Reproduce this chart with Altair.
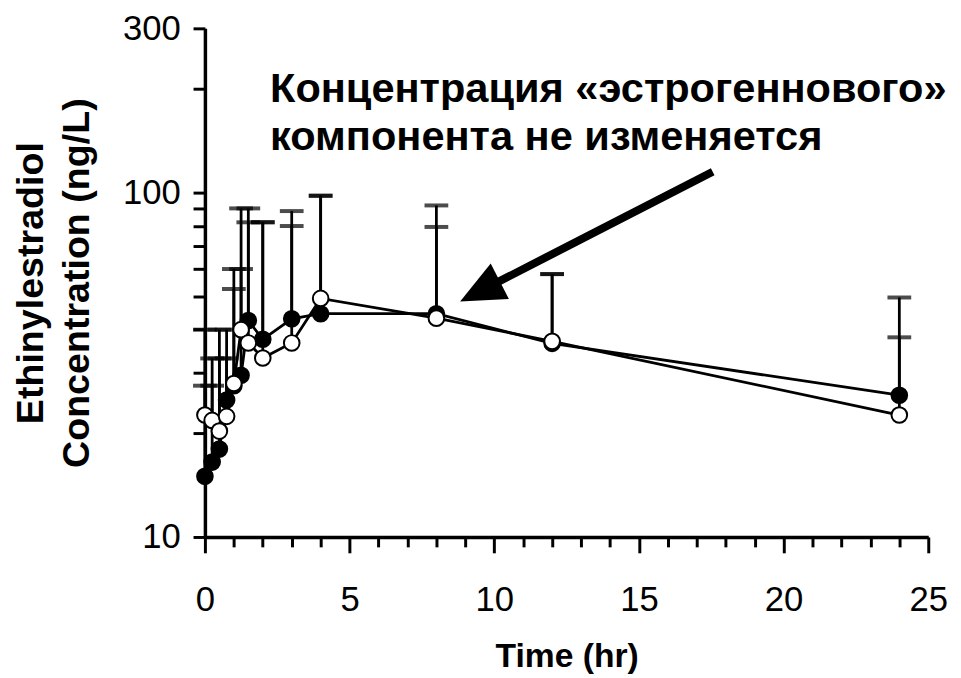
import altair as alt
import pandas as pd

# ---- data ----
times = [0, 0.25, 0.5, 0.75, 1, 1.25, 1.5, 2, 3, 4, 8, 12, 24]
filled_mean = [15.0, 16.5, 18.0, 25.0, 27.5, 29.5, 42.5, 37.5, 43.0, 44.5, 44.5, 36.5, 25.8]
open_mean = [22.6, 21.8, 20.3, 22.4, 27.9, 40.0, 36.6, 33.1, 36.6, 49.3, 43.2, 37.0, 22.6]
filled_upper = [27.5, 27.5, 33.0, 40.0, 52.5, 60.0, 90.0, 82.0, 80.0, 98.0, 79.5, 58.0, 38.0]
open_upper = [40.0, 33.0, 40.0, 33.0, 60.0, 90.0, 82.0, 82.0, 88.4, 98.0, 91.8, 58.0, 49.6]

annot_lines = ["Концентрация «эстрогеннового»", "компонента не изменяется"]
annot_x = [2.25, 2.25]
annot_y = [200.0, 145.0]

arrow_tail_x = [17.55]
arrow_tail_y = [115.0]
arrow_shaft_end_x = [9.58]
arrow_shaft_end_y = [52.1]
arrow_tip_x = [8.82]
arrow_tip_y = [48.3]

x_ticks = list(range(0, 26))
y_ticks = [10, 20, 30, 40, 50, 60, 70, 80, 90, 100, 200, 300]

FONT = "Liberation Sans"
X_TITLE = "Time (hr)"
Y_TITLE = ["Ethinylestradiol", "Concentration (ng/L)"]

rows = []
for t, m, u in zip(times, filled_mean, filled_upper):
    rows.append({"time": t, "mean": m, "upper": u, "group": "filled"})
for t, m, u in zip(times, open_mean, open_upper):
    rows.append({"time": t, "mean": m, "upper": u, "group": "open"})
df = pd.DataFrame(rows)

xscale = alt.Scale(domain=[0, 25], nice=False)
yscale = alt.Scale(type="log", domain=[10, 300], nice=False)

x_axis = alt.Axis(
    values=x_ticks,
    labelExpr="datum.value % 5 === 0 ? datum.label : ''",
    tickSize={"condition": {"test": "datum.value % 5 === 0", "value": 16}, "value": 10},
    labelPadding=30, titlePadding=23, labelFlush=False,
    labelFontSize=35, titleFontSize=34,
)
y_axis = alt.Axis(
    values=y_ticks,
    format="d",
    labelExpr="(datum.value == 10 || datum.value == 100 || datum.value == 300) ? datum.label : ''",
    tickSize=12,
    labelPadding=13, titlePadding=26, titleLineHeight=47,
    labelFontSize=35, titleFontSize=38,
)


def X(field):
    return alt.X(field, scale=xscale, axis=x_axis, title=X_TITLE)


def Y(field):
    return alt.Y(field, scale=yscale, axis=y_axis, title=Y_TITLE)


base = alt.Chart(df)

lines = base.mark_line(color="#000", strokeWidth=2.8).encode(
    x=X("time:Q"), y=Y("mean:Q"), detail="group:N",
)

err = base.mark_rule(color="#000", strokeWidth=2.8).encode(
    x=X("time:Q"), y=Y("mean:Q"), y2="upper:Q",
)

caps = base.mark_tick(color="#000", orient="horizontal", size=24, thickness=4).encode(
    x=X("time:Q"), y=Y("upper:Q"),
)

points = base.mark_point(filled=True, size=250, stroke="#000", strokeWidth=2, opacity=1, shape="circle").encode(
    x=X("time:Q"), y=Y("mean:Q"),
    fill=alt.Fill("group:N", scale=alt.Scale(domain=["filled", "open"], range=["#000", "#fff"]), legend=None),
    order=alt.Order("group:N", sort="ascending"),
)

text_df = pd.DataFrame({"label": annot_lines, "x": annot_x, "y": annot_y})
annot = alt.Chart(text_df).mark_text(
    align="left", baseline="middle", font=FONT, fontSize=42, fontWeight="bold", color="#000"
).encode(
    x=X("x:Q"), y=Y("y:Q"), text="label:N",
)

arrow_df = pd.DataFrame({
    "x": arrow_tail_x, "y": arrow_tail_y,
    "x2": arrow_shaft_end_x, "y2": arrow_shaft_end_y,
    "tx": arrow_tip_x, "ty": arrow_tip_y,
})
shaft = alt.Chart(arrow_df).mark_rule(color="#000", strokeWidth=8).encode(
    x=X("x:Q"), y=Y("y:Q"), x2="x2:Q", y2="y2:Q",
)
head = alt.Chart(arrow_df).mark_point(
    shape="M0,0L-0.45,1L0.45,1Z", filled=True, color="#000", opacity=1, size=8100, angle=243, strokeWidth=0
).encode(
    x=X("tx:Q"), y=Y("ty:Q"),
)

chart = alt.layer(lines, err, caps, points, shaft, head, annot).properties(
    width=731, height=514,
    padding={"left": 4, "top": 0, "right": 5, "bottom": 5},
    background="#fff",
).configure_view(stroke=None).configure_axis(
    titleFontWeight="bold", titleFont=FONT, titleColor="#000",
    labelFont=FONT, labelColor="#000", labelFontWeight="normal",
    labelOverlap=False,
    grid=False, domainWidth=3.5, domainColor="#000", tickWidth=3, tickColor="#000",
)

chart.save("out.html", embed_options={"renderer": "svg", "actions": False})
